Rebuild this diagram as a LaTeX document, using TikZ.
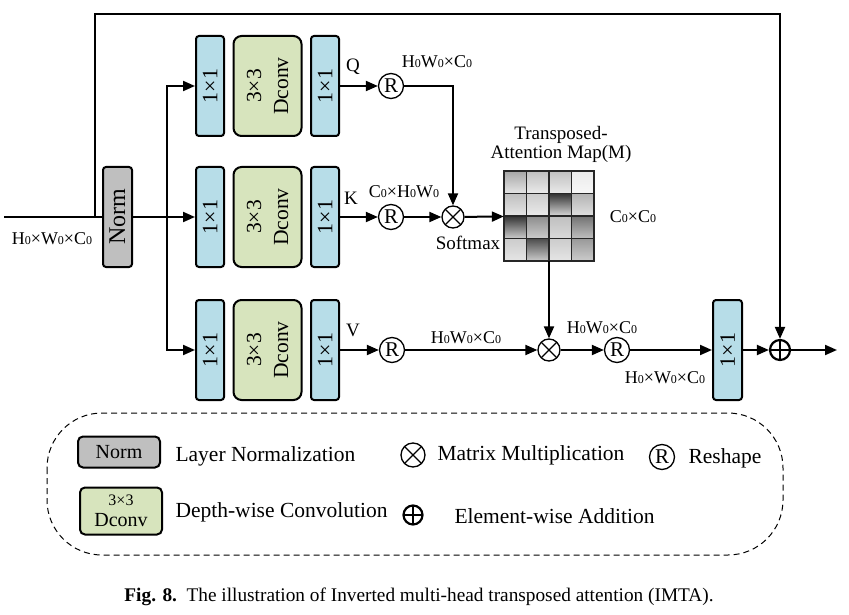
\documentclass[tikz,border=0pt]{standalone}
\usepackage{fontspec}
\setmainfont{Liberation Serif}
\usetikzlibrary{arrows.meta}
\definecolor{convblue}{HTML}{B7DDE8}
\definecolor{dconvgreen}{HTML}{D7E4BD}
\definecolor{normgray}{HTML}{BFBFBF}
\newcommand{\zs}{{\fontsize{12}{12}\selectfont 0}}

\begin{document}
\begin{tikzpicture}[x=1pt, y=-1pt,
  box/.style={draw, rotate=90, minimum height=28, minimum width=100, inner sep=0, line width=2, rounded corners=3},
  conv/.style={box, fill=convblue, font=\fontsize{22}{22}\selectfont},
  dconv/.style={box, fill=dconvgreen, minimum height=68, rounded corners=8, align=center, font=\fontsize{21.5}{27}\selectfont},
  line/.style={line width=2},
  arr/.style={line width=2, -{Triangle[length=12pt,width=10pt]}},
  resh/.style={draw, circle, line width=1.3, minimum size=25, inner sep=0, font=\fontsize{21}{21}\selectfont},
  mult/.style={draw, circle, line width=1.3, minimum size=22, inner sep=0, path picture={
      \draw [line width=1.3] (path picture bounding box.north west) -- (path picture bounding box.south east);
      \draw [line width=1.3] (path picture bounding box.north east) -- (path picture bounding box.south west);}},
  addn/.style={draw, circle, line width=2.2, minimum size=20, inner sep=0, path picture={
      \draw [line width=2.2] (path picture bounding box.north) -- (path picture bounding box.south);
      \draw [line width=2.2] (path picture bounding box.west) -- (path picture bounding box.east);}},
  small/.style={font=\fontsize{18}{18}\selectfont},
  lbl/.style={font=\fontsize{19}{19}\selectfont},
  legtext/.style={anchor=west, font=\fontsize{21.5}{21.5}\selectfont}]
\useasboundingbox (0,0) rectangle (849,615);

\node [box, fill=normgray, minimum height=29, font=\fontsize{24}{24}\selectfont] (norm) at (117.5,217) {Norm};
\node [conv] (q1) at (210,86) {1×1};
\node [dconv] (q2) at (267.5,86) {3×3\\Dconv};
\node [conv] (q3) at (325,86) {1×1};
\node [conv] (k1) at (210,217) {1×1};
\node [dconv] (k2) at (267.5,217) {3×3\\Dconv};
\node [conv] (k3) at (325,217) {1×1};
\node [conv] (v1) at (210,350) {1×1};
\node [dconv] (v2) at (267.5,350) {3×3\\Dconv};
\node [conv] (v3) at (325,350) {1×1};
\node [conv, minimum height=29] (out1) at (727.5,350) {1×1};

\node [resh] (rq) at (391,86) {R};
\node [resh] (rk) at (391,217) {R};
\node [resh] (rv) at (392,350) {R};
\node [resh] (rout) at (617,350) {R};
\node [mult] (mul1) at (453,217) {};
\node [mult] (mul2) at (549,350) {};
\node [addn] (plus) at (780,350) {};

\node [minimum size=90, inner sep=0] (map) at (549,216) {};
\foreach \c/\r/\t/\b in {0/0/35/10, 1/0/25/8, 2/0/25/8, 3/0/8/3,
                         0/1/25/10, 1/1/20/8, 2/1/80/15, 3/1/30/12,
                         0/2/80/20, 1/2/45/20, 2/2/25/15, 3/2/55/25,
                         0/3/20/10, 1/3/70/20, 2/3/20/10, 3/3/40/20}
  \shade [top color=black!\t, bottom color=black!\b] (504+22.5*\c,171+22.5*\r) rectangle +(22.5,22.5);
\foreach \i in {1,2,3} {
  \draw [black!85, line width=1.6] (504+22.5*\i,171) -- +(0,90);
  \draw [black!85, line width=1.6] (504,171+22.5*\i) -- +(90,0);
}
\draw [black!85, line width=1.6] (map.north west) rectangle (map.south east);

\coordinate (in) at (4,217);
\coordinate (split) at (95,217);
\coordinate (br) at (167,217);
\coordinate (tr) at (780,14);
\coordinate (end) at (837,350);

\draw [line] (in) -- (norm);
\draw [arr] (split) |- (tr) -- (plus);
\draw [arr] (norm) -- (k1);
\draw [arr] (br) |- (q1);
\draw [arr] (br) |- (v1);
\draw [arr] (q3) -- (rq);
\draw [arr] (rq) -| (mul1);
\draw [arr] (k3) -- (rk);
\draw [arr] (rk) -- (mul1);
\draw [arr] (mul1) -- (map);
\draw [arr] (map) -- (mul2);
\draw [arr] (v3) -- (rv);
\draw [arr] (rv) -- (mul2);
\draw [arr] (mul2) -- (rout);
\draw [arr] (rout) -- (out1);
\draw [arr] (out1) -- (plus);
\draw [arr] (plus) -- (end);

\node [small] (inlbl) at (52,239) {H\zs×W\zs×C\zs};
\node [lbl] (qlbl) at (353,67) {Q};
\node [lbl] (klbl) at (351,198) {K};
\node [lbl] (vlbl) at (353,330) {V};
\node [small] (qdim) at (437,62) {H\zs W\zs×C\zs};
\node [small] (kdim) at (404,192) {C\zs×H\zs W\zs};
\node [lbl] (smax) at (468,243) {Softmax};
\node [lbl] (maptitle) at (561,145) {\begin{tabular}{@{}c@{}}Transposed-\\Attention Map(M)\end{tabular}};
\node [small] (mapdim) at (633,217) {C\zs×C\zs};
\node [small] (vdim) at (466,338) {H\zs W\zs×C\zs};
\node [small] (mdim) at (602,328) {H\zs W\zs×C\zs};
\node [small] (odim) at (665,378) {H\zs×W\zs×C\zs};

\draw [dash pattern=on 6pt off 4pt, line width=1, rounded corners=55] (47,413) rectangle (783,555);
\node [draw, fill=normgray, line width=2, rounded corners=5, minimum width=82, minimum height=31, inner sep=0, font=\fontsize{20}{20}\selectfont] (lnorm) at (119,452) {Norm};
\node [draw, fill=dconvgreen, line width=2, rounded corners=5, minimum width=82, minimum height=47, inner sep=0, align=center, font=\fontsize{20}{21}\selectfont] (ldconv) at (121,511) {{\fontsize{16}{16}\selectfont 3×3}\\Dconv};
\node [legtext] (tnorm) at (172,456) {Layer Normalization};
\node [legtext] (tdconv) at (172,512) {Depth-wise Convolution};
\node [mult, minimum size=24] (lmul) at (413,455) {};
\node [legtext] (tmul) at (434,455) {Matrix Multiplication};
\node [resh] (lres) at (662,457) {R};
\node [legtext] (tres) at (685,458) {Reshape};
\node [addn, minimum size=19] (lplus) at (413,515) {};
\node [legtext] (tplus) at (451,516) {Element-wise Addition};

\node [font=\fontsize{19.3}{19.3}\selectfont] (cap) at (419,597) {\textbf{Fig. 8.}\ \ The illustration of Inverted multi-head transposed attention (IMTA).};
\end{tikzpicture}
\end{document}
